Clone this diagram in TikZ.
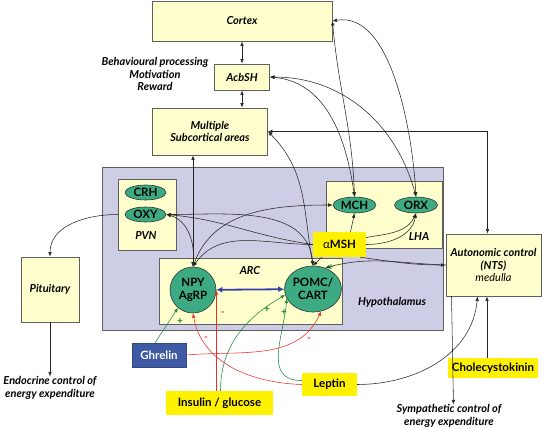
\documentclass[tikz,border=0pt]{standalone}
\usepackage{fontspec}
\setmainfont{Lato}
\usetikzlibrary{arrows.meta,positioning,shapes.geometric}
\definecolor{boxfill}{RGB}{255,255,206}
\definecolor{hypofill}{RGB}{205,205,230}
\definecolor{edgegray}{RGB}{95,95,95}
\definecolor{cellgreen}{RGB}{60,170,130}
\definecolor{sigyellow}{RGB}{255,242,0}
\definecolor{ghrelinblue}{RGB}{62,90,165}
\definecolor{mutualblue}{RGB}{55,65,165}
\definecolor{inhibred}{RGB}{232,45,45}
\definecolor{excitgreen}{RGB}{30,135,60}

\begin{document}
\begin{tikzpicture}[x=1pt, y=-1pt,
    every node/.style={font=\fontsize{11}{12.5}\selectfont},
    area/.style={draw=edgegray, fill=boxfill, line width=0.9pt, inner sep=0pt, align=center, font=\fontsize{11}{12.5}\selectfont\bfseries\itshape},
    lbl/.style={inner sep=0pt, align=center, font=\fontsize{11}{12.5}\selectfont\bfseries\itshape},
    cell/.style={ellipse, draw=black!80, fill=cellgreen, line width=0.6pt, inner sep=0pt, align=center, font=\fontsize{11.5}{12.5}\selectfont\bfseries},
    signal/.style={fill=sigyellow, inner sep=0pt, font=\fontsize{11.5}{13}\selectfont\bfseries},
    link/.style={-{Latex[length=4.5pt, width=3.6pt]}, line width=0.55pt, black!85},
    both/.style={{Latex[length=4.5pt, width=3.6pt]}-{Latex[length=4.5pt, width=3.6pt]}, line width=0.55pt, black!85},
    inhib/.style={link, inhibred},
    excit/.style={link, excitgreen},
    sign/.style={inner sep=0pt, font=\fontsize{10}{10}\selectfont\bfseries},
]
\useasboundingbox (0,0) rectangle (542,429);

% Hypothalamus
\node[draw=edgegray, fill=hypofill, line width=0.9pt, minimum width=341pt, minimum height=163pt] (hypo) at (272.5,248.5) {};
\node[lbl] (hypolbl) at (392,302) {Hypothalamus};

% Upper areas
\node[area, minimum width=180pt, minimum height=40pt] (cortex) at (242,21) {Cortex};
\node[area, minimum width=55pt, minimum height=26pt] (acbsh) at (242,77) {AcbSH};
\node[area, minimum width=115pt, minimum height=47pt] (subcort) at (210,131.5) {Multiple\\Subcortical areas};
\node[lbl] (behav) at (155,74) {Behavioural processing\\Motivation\\Reward};

% PVN
\node[area, minimum width=58pt, minimum height=71pt] (pvn) at (147,214.5) {};
\node[lbl] (pvnlbl) at (146,236) {PVN};
\node[cell, minimum width=41pt, minimum height=15pt] (crh) at (145.5,192.5) {CRH};
\node[cell, minimum width=41pt, minimum height=15pt] (oxy) at (145.5,214.5) {OXY};

% LHA
\node[area, minimum width=116pt, minimum height=67pt] (lha) at (384,214.5) {};
\node[lbl] (lhalbl) at (419,237) {LHA};
\node[cell, minimum width=43pt, minimum height=16pt] (mch) at (354.5,205) {MCH};
\node[cell, minimum width=43pt, minimum height=16pt] (orx) at (416,205) {ORX};

% ARC
\node[area, minimum width=183pt, minimum height=66pt] (arc) at (250.5,291) {};
\node[lbl] (arclbl) at (250,271) {ARC};
\node[cell, circle, minimum size=46pt] (npy) at (193,290) {NPY\\AgRP};
\node[cell, minimum width=56pt, minimum height=46pt] (pomc) at (313,289) {POMC/\\CART};

% alpha-MSH
\node[signal, minimum width=53pt, minimum height=25pt] (amsh) at (339.5,244.5) {{\mdseries α}MSH};

% Outside areas
\node[area, minimum width=95pt, minimum height=62pt] (auto) at (493.5,265) {Autonomic control\\(NTS)\\{\mdseries medulla}};
\node[area, minimum width=58pt, minimum height=65pt] (pit) at (50,289.5) {Pituitary};
\node[lbl] (endo) at (50,388) {Endocrine control of\\energy expenditure};
\node[lbl] (symp) at (449,416) {Sympathetic control of\\energy expenditure};

% Hormones
\node[fill=ghrelinblue, draw=ghrelinblue!80!black, inner sep=0pt, minimum width=54pt, minimum height=24pt, text=white, font=\fontsize{11.5}{13}\selectfont\bfseries] (ghrelin) at (159,355) {Ghrelin};
\node[signal, minimum width=107pt, minimum height=24pt] (insulin) at (219.5,403) {Insulin / glucose};
\node[signal, minimum width=55pt, minimum height=23pt] (leptin) at (329.5,384.5) {Leptin};

% Cortex - AcbSH - subcortical
\draw[both] (cortex) -- (acbsh);
\draw[both] (acbsh) -- (acbsh.south |- subcort.north);
\draw[both] (cortex.east) to[out=-85, in=92] (mch.north);
\draw[both, looseness=0.8] (cortex.east) to[out=10, in=93] (orx.north);
\draw[both] (acbsh.east) to[out=-5, in=98] (mch.north);
\draw[both] (acbsh.east) to[out=0, in=105] (orx.north);
\draw[both] (subcort.east) -| ([xshift=-6pt]auto.north);
\draw[both] (pomc.north) to[out=100, in=-45] (subcort.east);
\draw[both] (npy.north |- subcort.south) -- (npy.north);

% PVN links
\draw[link] (pvn.west |- oxy) to[out=180, in=90] (pit.north);
\draw[link] (pit) -- (endo);
\draw[both] (oxy.east) to[out=-15, in=85] (npy.north);
\draw[both] (oxy.east) to[out=0, in=95] (pomc.north);
\draw[link] (amsh.west) to[out=172, in=-5] (oxy.east);

% ARC / LHA links
\draw[both] (npy.north) to[out=70, in=180] (mch.west);
\draw[link] (amsh.west) to[out=180, in=55] (npy.north);
\draw[link] ([xshift=9pt]amsh.south west) -- (pomc.north);
\draw[link] ([xshift=11pt]amsh.north) -- (mch.south);
\draw[link] ([yshift=7pt]amsh.east) to[out=10, in=-115] (orx.south);
\draw[link] (amsh.east) to[out=0, in=-100] (orx.south);
\draw[link] ([xshift=-6pt]amsh.south east) to[out=-8, in=180] (auto.west);
\draw[link] (auto.west) to[out=178, in=15] (pomc.60);
\draw[{Latex[length=6pt, width=6pt]}-{Latex[length=6pt, width=6pt]}, mutualblue, line width=1.8pt] (npy) -- (pomc);

% Hormone links
\draw[excit] ([xshift=-4pt]ghrelin.north) -- (npy.230);
\draw[inhib] (ghrelin.east) to[out=5, in=-115] (pomc.-70);
\draw[inhib] (insulin.north -| npy.east) -- (npy.east);
\draw[excit] ([xshift=1pt]insulin.north) to[out=90, in=-150] (pomc.192);
\draw[inhib] (leptin.west) to[out=178, in=-80] (npy.south);
\draw[excit, looseness=1.2] ([yshift=4pt]leptin.west) to[out=180, in=-95] (pomc.200);
\draw[link] (leptin.east) to[out=0, in=-95] ([xshift=-16pt]auto.south);

% Cholecystokinin
\node[signal, minimum width=90pt, minimum height=20pt] (cck) at (493,368) {Cholecystokinin};
\draw[link] ([xshift=-6pt]cck.north) -- ([xshift=-6pt]cck.north |- auto.south);
\draw[link] ([xshift=-42pt]auto.south) -- ([xshift=-40pt]auto.south |- symp.north);

% Signs
\node[sign, excitgreen] (plusgh) at (180,322) {+};
\node[sign, inhibred] (minusins) at (223,314) {-};
\node[sign, inhibred] (minuslep) at (206,339) {-};
\node[sign, excitgreen] (plusins) at (267,310) {+};
\node[sign, excitgreen] (pluslep) at (284,313) {+};
\node[sign, inhibred] (minusgh) at (309,340) {-};
\node[sign, excitgreen] (plusauto) at (331,268) {+};

\end{tikzpicture}
\end{document}
